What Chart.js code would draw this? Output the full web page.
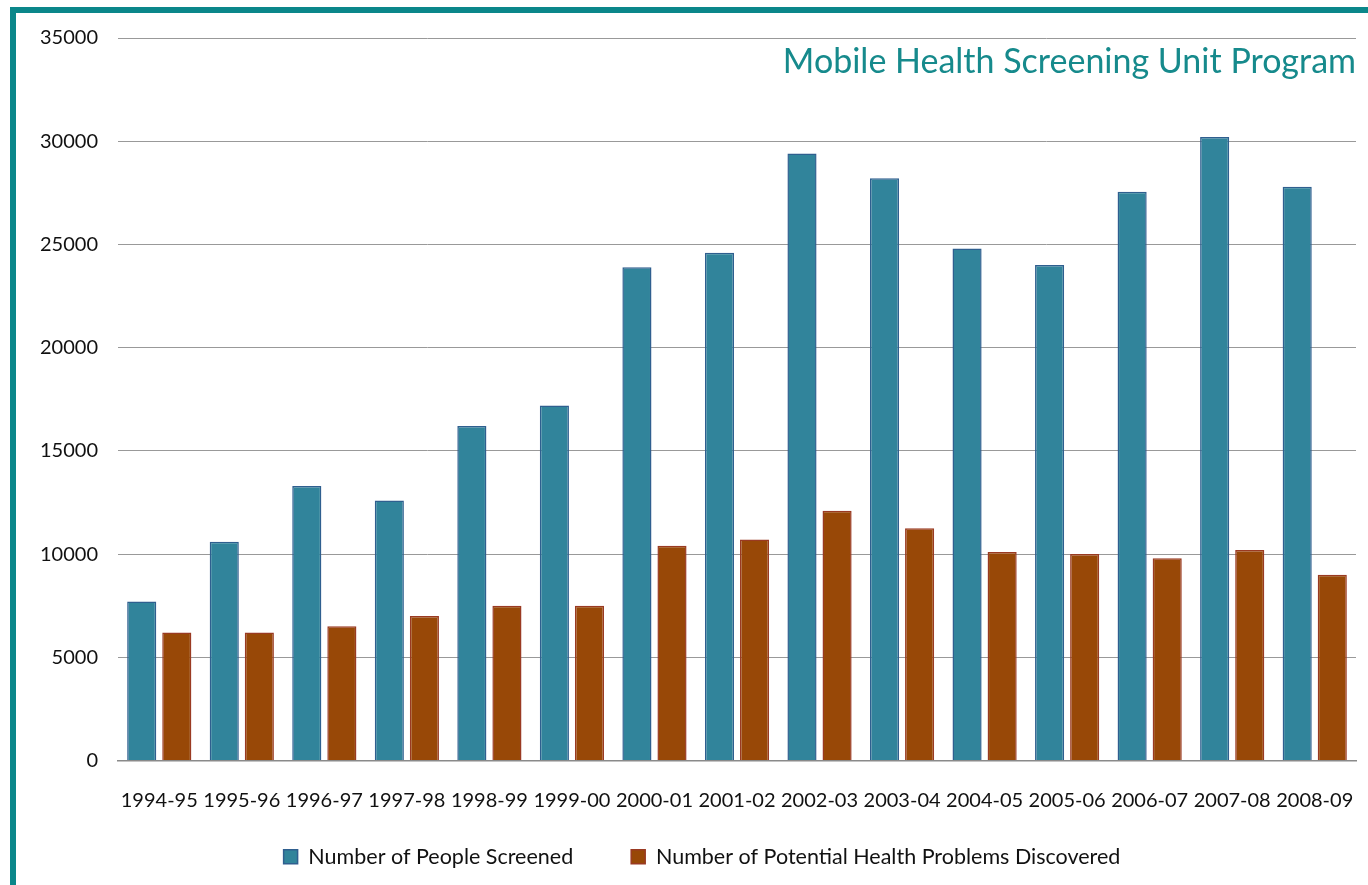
<!DOCTYPE html>
<html>
<head>
<meta charset="utf-8">
<script src="https://cdn.jsdelivr.net/npm/chart.js@4/dist/chart.umd.min.js"></script>
<style>
  html, body { margin: 0; padding: 0; background: #fff; overflow: hidden; width: 1368px; height: 885px; }
  #frame {
    position: absolute; left: 10px; top: 7px; right: 0; bottom: 0;
    border-top: 6px solid #0b878a; border-left: 6px solid #0b878a;
  }
  #wrap { position: absolute; left: 0; top: 0; width: 1368px; height: 885px; }
</style>
</head>
<body>
<div id="frame"></div>
<div id="wrap"><canvas id="bar-chart"></canvas></div>
<script>
const years = [
  '1994-95', '1995-96', '1996-97', '1997-98', '1998-99', '1999-00', '2000-01', '2001-02',
  '2002-03', '2003-04', '2004-05', '2005-06', '2006-07', '2007-08', '2008-09',
];
const peopleScreened = [
  7700, 10600, 13300, 12600, 16200, 17200, 23900, 24600,
  29400, 28200, 24800, 24000, 27550, 30200, 27800,
];
const problemsFound = [
  6200, 6200, 6500, 7000, 7500, 7500, 10400, 10700,
  12100, 11250, 10100, 10000, 9800, 10200, 9000,
];
const yTicks = [0, 5000, 10000, 15000, 20000, 25000, 30000, 35000];

const font = 'Lato';
const legendTextY = 857;

// title sits inside the plot area, top right
const titleInside = {
  id: 'titleInside',
  afterDraw(chart) {
    const { ctx, chartArea } = chart;
    ctx.save();
    ctx.font = '34px ' + font;
    ctx.fillStyle = '#168a8c';
    ctx.textAlign = 'right';
    ctx.textBaseline = 'alphabetic';
    ctx.fillText('Mobile Health Screening Unit Program', chartArea.right, chartArea.top + 35);
    ctx.restore();
  },
};

// wide legend spacing also inflates its height, so pull the box back up
const legendShift = {
  id: 'legendShift',
  afterLayout(chart) {
    const lg = chart.legend;
    const pad = lg.options.labels.padding;
    const h = lg.height;
    lg.top = legendTextY - pad - 11;
    lg.bottom = lg.top + h;
    lg.left += 14;
    lg.right += 14;
  },
};

new Chart(document.getElementById('bar-chart'), {
  type: 'bar',
  data: {
    labels: years,
    datasets: [
      {
        label: 'Number of People Screened',
        data: peopleScreened,
        backgroundColor: '#31849b',
        borderColor: '#2f5f8f',
        borderWidth: 1.5,
      },
      {
        label: 'Number of Potential Health Problems Discovered',
        data: problemsFound,
        backgroundColor: '#984807',
        borderColor: '#9a3a22',
        borderWidth: 1.5,
      },
    ],
  },
  plugins: [titleInside, legendShift],
  options: {
    responsive: true,
    maintainAspectRatio: false,
    animation: false,
    layout: {
      padding: { left: 20, right: 12, top: 38, bottom: -37 },
    },
    datasets: {
      bar: { categoryPercentage: 0.85, barPercentage: 0.83, borderSkipped: 'bottom' },
    },
    scales: {
      y: {
        min: 0,
        max: 35000,
        afterBuildTicks: (scale) => {
          scale.ticks = yTicks.map((v) => ({ value: v }));
        },
        afterFit: (scale) => {
          scale.width = 98;
        },
        border: { display: false },
        grid: { color: '#999999', lineWidth: 1, drawTicks: false },
        ticks: {
          padding: 20,
          color: '#111',
          font: { family: font, size: 20 },
          callback: (v) => String(v),
        },
      },
      x: {
        afterFit: (scale) => {
          scale.paddingLeft = 0;
          scale.paddingRight = 0;
        },
        border: { display: true, color: '#8a8a8a', width: 1.5 },
        grid: { display: false },
        ticks: {
          padding: 20,
          color: '#111',
          maxRotation: 0,
          autoSkip: false,
          font: { family: font, size: 20 },
        },
      },
    },
    plugins: {
      legend: {
        position: 'bottom',
        labels: {
          boxWidth: 14,
          boxHeight: 14,
          padding: 58,
          color: '#111',
          font: { family: font, size: 21.5 },
        },
      },
      tooltip: { enabled: false },
    },
  },
});
</script>
</body>
</html>
